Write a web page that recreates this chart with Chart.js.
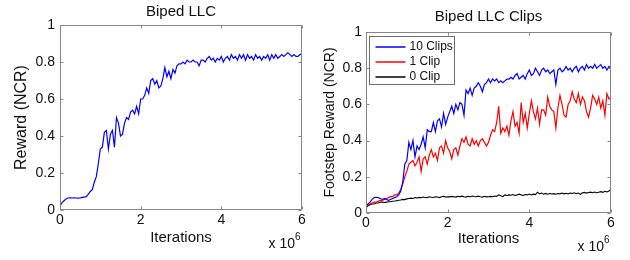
<!DOCTYPE html>
<html>
<head>
<meta charset="utf-8">
<script src="https://cdn.jsdelivr.net/npm/chart.js@4.4.0/dist/chart.umd.min.js"></script>
<style>
  body { margin: 0; background: #fff; }
  .wrap { position: absolute; top: 0; width: 315px; height: 260px; }
</style>
</head>
<body>
<div class="wrap" style="left:0"><canvas id="llc" width="315" height="260"></canvas></div>
<div class="wrap" style="left:315px"><canvas id="clips" width="315" height="260"></canvas></div>
<script>
// iterations, in units of 10^6
var iterations = [
  0,0.05,0.1,0.15,0.2,0.25,0.3,0.35,0.4,0.45,0.5,0.55,0.6,0.65,0.7,0.75,0.8,0.85,0.9,0.95,
  1,1.05,1.1,1.15,1.2,1.25,1.3,1.35,1.4,1.45,1.5,1.55,1.6,1.65,1.7,1.75,1.8,1.85,1.9,1.95,
  2,2.05,2.1,2.15,2.2,2.25,2.3,2.35,2.4,2.45,2.5,2.55,2.6,2.65,2.7,2.75,2.8,2.85,2.9,2.95,
  3,3.05,3.1,3.15,3.2,3.25,3.3,3.35,3.4,3.45,3.5,3.55,3.6,3.65,3.7,3.75,3.8,3.85,3.9,3.95,
  4,4.05,4.1,4.15,4.2,4.25,4.3,4.35,4.4,4.45,4.5,4.55,4.6,4.65,4.7,4.75,4.8,4.85,4.9,4.95,
  5,5.05,5.1,5.15,5.2,5.25,5.3,5.35,5.4,5.45,5.5,5.55,5.6,5.65,5.7,5.75,5.8,5.85,5.9,5.95,
  6
];

// Biped LLC
var llcReward = [
  0.02,0.04,0.05,0.06,0.065,0.066,0.065,0.066,0.065,0.064,0.065,0.068,0.07,0.072,0.085,0.10,0.11,0.15,0.18,0.25,
  0.33,0.34,0.42,0.43,0.33,0.41,0.43,0.34,0.50,0.47,0.40,0.41,0.47,0.50,0.49,0.53,0.54,0.52,0.56,0.52,
  0.60,0.60,0.62,0.66,0.63,0.70,0.71,0.68,0.70,0.66,0.67,0.71,0.77,0.72,0.75,0.71,0.76,0.74,0.78,0.79,
  0.79,0.80,0.79,0.81,0.80,0.80,0.81,0.80,0.80,0.78,0.81,0.81,0.80,0.82,0.83,0.81,0.82,0.80,0.82,0.81,
  0.83,0.80,0.82,0.83,0.81,0.84,0.82,0.83,0.81,0.84,0.82,0.84,0.81,0.84,0.82,0.83,0.81,0.84,0.82,0.83,
  0.81,0.83,0.82,0.84,0.81,0.84,0.82,0.84,0.82,0.83,0.84,0.83,0.84,0.85,0.84,0.83,0.84,0.83,0.83,0.84,
  0.845
];

// Biped LLC Clips
var clips10 = [
  0.04,0.05,0.06,0.075,0.085,0.087,0.085,0.08,0.075,0.08,0.075,0.07,0.075,0.08,0.085,0.09,0.10,0.12,0.17,0.27,
  0.29,0.39,0.35,0.40,0.31,0.37,0.35,0.38,0.42,0.36,0.46,0.45,0.45,0.50,0.45,0.51,0.52,0.475,0.55,0.49,
  0.53,0.56,0.59,0.55,0.60,0.57,0.61,0.60,0.54,0.68,0.66,0.69,0.65,0.69,0.70,0.72,0.70,0.67,0.71,0.72,
  0.74,0.72,0.74,0.73,0.74,0.72,0.73,0.72,0.73,0.74,0.74,0.75,0.74,0.76,0.77,0.74,0.75,0.76,0.74,0.77,
  0.79,0.76,0.77,0.80,0.78,0.76,0.79,0.80,0.78,0.79,0.77,0.78,0.79,0.71,0.79,0.80,0.78,0.79,0.81,0.79,
  0.80,0.78,0.80,0.81,0.78,0.80,0.81,0.79,0.82,0.80,0.81,0.80,0.82,0.80,0.81,0.82,0.80,0.81,0.79,0.81,
  0.80
];
var clips1 = [
  0.035,0.045,0.05,0.055,0.06,0.06,0.065,0.07,0.07,0.075,0.08,0.085,0.09,0.09,0.10,0.10,0.11,0.13,0.16,0.20,
  0.23,0.27,0.28,0.29,0.26,0.28,0.31,0.23,0.30,0.31,0.27,0.32,0.35,0.31,0.33,0.29,0.36,0.37,0.33,0.40,
  0.36,0.34,0.30,0.35,0.36,0.32,0.37,0.41,0.39,0.42,0.38,0.37,0.41,0.38,0.40,0.37,0.40,0.41,0.39,0.37,
  0.39,0.43,0.46,0.45,0.50,0.59,0.44,0.47,0.45,0.48,0.43,0.51,0.56,0.48,0.50,0.44,0.61,0.50,0.55,0.47,
  0.55,0.62,0.56,0.52,0.58,0.49,0.57,0.57,0.54,0.64,0.59,0.57,0.56,0.47,0.58,0.65,0.60,0.54,0.53,0.60,
  0.62,0.67,0.63,0.61,0.66,0.60,0.64,0.62,0.56,0.53,0.58,0.65,0.63,0.60,0.64,0.58,0.62,0.54,0.66,0.63,
  0.64
];
var clips0 = [
  0.03,0.04,0.045,0.05,0.05,0.055,0.055,0.06,0.06,0.058,0.06,0.062,0.062,0.065,0.066,0.068,0.07,0.072,0.075,0.074,
  0.078,0.08,0.082,0.08,0.085,0.083,0.086,0.084,0.088,0.086,0.085,0.09,0.087,0.086,0.09,0.088,0.085,0.09,0.092,0.088,
  0.09,0.089,0.092,0.09,0.088,0.092,0.09,0.093,0.09,0.088,0.092,0.09,0.094,0.091,0.09,0.093,0.09,0.088,0.092,0.089,
  0.09,0.092,0.09,0.094,0.092,0.1,0.095,0.09,0.1,0.097,0.1,0.098,0.102,0.097,0.1,0.104,0.1,0.097,0.102,0.1,
  0.105,0.1,0.104,0.102,0.115,0.106,0.11,0.104,0.108,0.104,0.108,0.105,0.107,0.104,0.108,0.106,0.11,0.106,0.109,0.105,
  0.11,0.108,0.112,0.107,0.11,0.103,0.112,0.114,0.11,0.113,0.115,0.112,0.116,0.112,0.115,0.118,0.114,0.12,0.116,0.122,
  0.128
];

var xTicks = [0, 2, 4, 6];
var yTicks = [0, 0.2, 0.4, 0.6, 0.8, 1];
var xExponent = '6';

var FONT = "'Liberation Sans', Arial, sans-serif";
var AXIS_GREY = '#868686';

function points(ys) {
  return iterations.map(function(x, i) { return {x: x, y: ys[i]}; });
}

// MATLAB-ish box, inward ticks, "x 10^6" note and in-axes legend
var matlabBox = {
  id: 'matlabBox',
  afterDatasetsDraw: function(chart, args, opts) {
    var a = chart.chartArea, ctx = chart.ctx;
    var xs = chart.scales.x, ys = chart.scales.y;
    var l = Math.round(a.left) + 0.5, r = Math.round(a.right) - 0.5;
    var t = Math.round(a.top) + 0.5, b = Math.round(a.bottom) - 0.5;
    var tl = 3;
    ctx.save();
    ctx.strokeStyle = AXIS_GREY;
    ctx.lineWidth = 1;
    ctx.beginPath();
    ctx.rect(l, t, r - l, b - t);
    xTicks.forEach(function(v) {
      var px = Math.round(xs.getPixelForValue(v)) + 0.5;
      ctx.moveTo(px, b); ctx.lineTo(px, b - tl);
      ctx.moveTo(px, t); ctx.lineTo(px, t + tl);
    });
    yTicks.forEach(function(v) {
      var py = Math.round(ys.getPixelForValue(v)) + 0.5;
      ctx.moveTo(l, py); ctx.lineTo(l + tl, py);
      ctx.moveTo(r, py); ctx.lineTo(r - tl, py);
    });
    ctx.stroke();

    // x 10^6
    ctx.fillStyle = '#111';
    ctx.textBaseline = 'middle';
    ctx.textAlign = 'right';
    ctx.font = '14px ' + FONT;
    ctx.fillText('x 10', a.right - 7, a.bottom + 34);
    ctx.textAlign = 'left';
    ctx.font = '10px ' + FONT;
    ctx.fillText(xExponent, a.right - 7, a.bottom + 27);

    if (opts.legend) {
      var sets = chart.data.datasets;
      var bx = Math.round(a.left) + 3.5, by = Math.round(a.top) + 4.5;
      var bw = 85, bh = 48;
      ctx.fillStyle = '#fff';
      ctx.fillRect(bx, by, bw, bh);
      ctx.strokeStyle = '#6e6e6e';
      ctx.strokeRect(bx, by, bw, bh);
      ctx.font = '12px ' + FONT;
      ctx.textAlign = 'left';
      sets.forEach(function(ds, i) {
        var ry = by + 10.5 + i * 15;
        ctx.strokeStyle = ds.borderColor;
        ctx.lineWidth = 1.5;
        ctx.beginPath();
        ctx.moveTo(bx + 6, ry); ctx.lineTo(bx + 36, ry);
        ctx.stroke();
        ctx.fillStyle = '#111';
        ctx.fillText(ds.label, bx + 40, ry);
      });
    }
    ctx.restore();
  }
};

function makeOptions(o) {
  return {
    responsive: false,
    animation: false,
    devicePixelRatio: 1,
    layout: { padding: { top: o.padTop, right: o.padRight, left: 0, bottom: 0 } },
    elements: { point: { radius: 0 }, line: { tension: 0 } },
    plugins: {
      legend: { display: false },
      tooltip: { enabled: false },
      title: {
        display: true,
        text: o.title,
        fullSize: false,
        color: '#111',
        font: { family: FONT, size: 15, weight: 'normal' },
        padding: { top: 3, bottom: o.titleGap }
      },
      matlabBox: { legend: o.legend }
    },
    scales: {
      x: {
        type: 'linear',
        min: 0, max: 6,
        afterBuildTicks: function(axis) { axis.ticks = xTicks.map(function(v) { return {value: v}; }); },
        afterFit: function(axis) { axis.height = o.xHeight; },
        grid: { display: false, drawTicks: false },
        border: { display: false },
        ticks: { color: '#111', font: { family: FONT, size: 14 }, padding: 2, maxRotation: 0, autoSkip: false,
                 callback: function(v) { return String(v); } },
        title: {
          display: true,
          text: 'Iterations',
          color: '#111',
          font: { family: FONT, size: 15 },
          padding: { top: 0, bottom: o.xTitlePad }
        }
      },
      y: {
        min: 0, max: 1,
        afterBuildTicks: function(axis) { axis.ticks = yTicks.map(function(v) { return {value: v}; }); },
        afterFit: function(axis) { axis.width = o.yWidth; },
        grid: { display: false, drawTicks: false },
        border: { display: false },
        ticks: { color: '#111', font: { family: FONT, size: 14 }, padding: o.yTickPad,
                 callback: function(v) { return String(+v.toFixed(1)); } },
        title: {
          display: true,
          text: o.yLabel,
          color: '#111',
          font: { family: FONT, size: o.yLabelSize },
          padding: { top: o.yTitlePad, bottom: 0 }
        }
      }
    }
  };
}

new Chart(document.getElementById('llc'), {
  type: 'line',
  data: {
    datasets: [
      { label: 'Biped LLC', data: points(llcReward), borderColor: '#0000ff', borderWidth: 1.2, fill: false }
    ]
  },
  options: makeOptions({
    title: 'Biped LLC', padTop: 0, titleGap: 4, padRight: 13,
    xHeight: 50, xTitlePad: 13, yWidth: 60, yTickPad: 5,
    yLabel: 'Reward (NCR)', yLabelSize: 16, yTitlePad: 12, legend: false
  }),
  plugins: [matlabBox]
});

new Chart(document.getElementById('clips'), {
  type: 'line',
  data: {
    datasets: [
      { label: '10 Clips', data: points(clips10), borderColor: '#0000ff', borderWidth: 1.2, fill: false },
      { label: '1 Clip', data: points(clips1), borderColor: '#ff0000', borderWidth: 1.2, fill: false },
      { label: '0 Clip', data: points(clips0), borderColor: '#000000', borderWidth: 1.1, fill: false }
    ]
  },
  options: makeOptions({
    title: 'Biped LLC Clips', padTop: 5, titleGap: 6, padRight: 19,
    xHeight: 47, xTitlePad: 12, yWidth: 51, yTickPad: 4,
    yLabel: 'Footstep Reward (NCR)', yLabelSize: 14, yTitlePad: 7, legend: true
  }),
  plugins: [matlabBox]
});
</script>
</body>
</html>
